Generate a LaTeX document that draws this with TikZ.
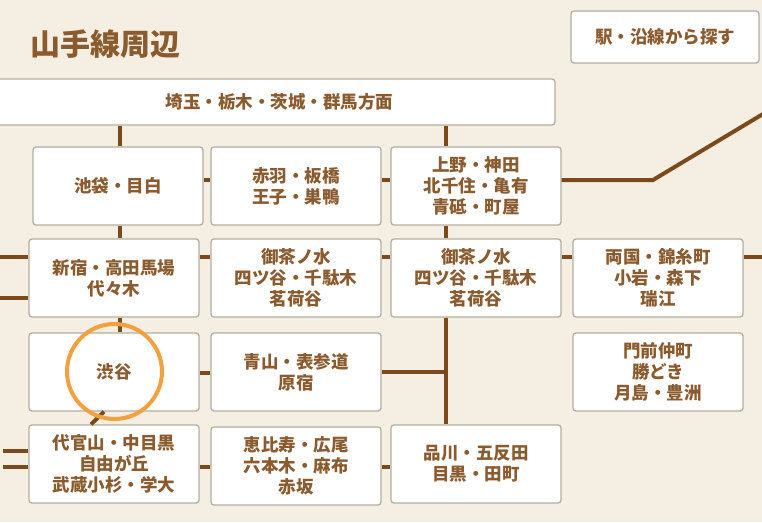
\documentclass[tikz,border=0pt]{standalone}
\usepackage{fontspec}
\setmainfont{Noto Sans CJK JP}
\definecolor{bgc}{HTML}{F4EFE2}
\definecolor{bordc}{HTML}{B5ADA1}
\definecolor{txtc}{HTML}{8A5B2E}
\definecolor{railc}{HTML}{7B4A1C}
\definecolor{ringc}{HTML}{F3A03E}
\tikzset{
  box/.style={draw=bordc, fill=white, line width=1.3pt, rounded corners=3pt,
    align=center, text=txtc, inner sep=0pt,
    font=\fontsize{17.5}{21}\selectfont\bfseries,
    minimum width=170pt, minimum height=78pt},
  rail/.style={draw=railc, line width=4pt},
  ring/.style={draw=ringc, line width=4pt},
  titletext/.style={text=txtc, font=\fontsize{30}{34}\selectfont\bfseries, inner sep=0pt}
}
\begin{document}
\begin{tikzpicture}[x=1pt,y=-1pt]
\useasboundingbox (0,0) rectangle (762,522);
\fill[bgc] (0,0) rectangle (762,522);

% title and search box
\node[titletext, anchor=west] (title) at (30,44) {山手線周辺};
\node[box, minimum width=188pt, minimum height=52pt] (search) at (665,37) {駅・沿線から探す};

% top band
\node[box, minimum width=561pt, minimum height=46pt] (band) at (274.5,102) {};
\node[text=txtc, font=\fontsize{17.5}{21}\selectfont\bfseries, inner sep=0pt] (bandtext) at (279.5,102) {埼玉・栃木・茨城・群馬方面};

% row 1
\node[box] (ikebukuro) at (118,186) {池袋・目白};
\node[box] (akabane) at (296,186) {赤羽・板橋\\王子・巣鴨};
\node[box] (ueno) at (476,186) {上野・神田\\北千住・亀有\\青砥・町屋};
% row 2
\node[box] (shinjuku) at (114,278) {新宿・高田馬場\\代々木};
\node[box] (ochaL) at (296,278) {御茶ノ水\\四ツ谷・千駄木\\茗荷谷};
\node[box] (ochaR) at (476,278) {御茶ノ水\\四ツ谷・千駄木\\茗荷谷};
\node[box] (ryogoku) at (658,278) {両国・錦糸町\\小岩・森下\\瑞江};
% row 3
\node[box] (shibuya) at (114,372) {渋谷};
\node[box] (aoyama) at (296,372) {青山・表参道\\原宿};
\node[box] (monzen) at (658,372) {門前仲町\\勝どき\\月島・豊洲};
% row 4
\node[box] (daikan) at (114,464) {代官山・中目黒\\自由が丘\\武蔵小杉・学大};
\node[box] (ebisu) at (296,466) {恵比寿・広尾\\六本木・麻布\\赤坂};
\node[box] (shinagawa) at (476,464) {品川・五反田\\目黒・田町};

% free ends
\coordinate (bend) at (653,180);
\coordinate (ne) at (778,105);
\coordinate (r2w) at (0,257);
\coordinate (r2w2) at (0,298);
\coordinate (r2e) at (770,257);
\coordinate (r4w) at (3,451);
\coordinate (r4w2) at (3,467);
\coordinate (junc) at (446,372);

% vertical rails
\draw[rail] ([xshift=2pt]ikebukuro.north) -- ([xshift=2pt]ikebukuro.north |- band.south);
\draw[rail] ([xshift=2pt]ikebukuro.south) -- ([xshift=2pt]ikebukuro.south |- shinjuku.north);
\draw[rail] ([xshift=6pt]shinjuku.south) -- ([xshift=6pt]shibuya.north);
\draw[rail] ([xshift=-30pt]ueno.north) -- ([xshift=-30pt]ueno.north |- band.south);
\draw[rail] ([xshift=-30pt]ueno.south) -- ([xshift=-30pt]ochaR.north);
\draw[rail] ([xshift=-30pt]ochaR.south) -- ([xshift=-30pt]shinagawa.north);
\draw[rail] (aoyama.east) -- (junc);
\draw[rail] ([xshift=-10pt]shibuya.south) -- ([xshift=-23pt]daikan.north);

% horizontal rails
\draw[rail] ([yshift=6pt]ikebukuro.east) -- ([yshift=6pt]akabane.west);
\draw[rail] ([yshift=6pt]akabane.east) -- ([yshift=6pt]ueno.west);
\draw[rail] ([yshift=6pt]ueno.east) -- (bend) -- (ne);
\draw[rail] (r2w) -- (r2w -| shinjuku.west);
\draw[rail] (r2w2) -- (r2w2 -| shinjuku.west);
\draw[rail] ([yshift=21pt]shinjuku.east) -- ([yshift=21pt]ochaL.west);
\draw[rail] ([yshift=21pt]ochaL.east) -- ([yshift=21pt]ochaR.west);
\draw[rail] ([yshift=21pt]ochaR.east) -- ([yshift=21pt]ryogoku.west);
\draw[rail] ([yshift=21pt]ryogoku.east) -- (r2e);
\draw[rail] ([yshift=-1pt]shibuya.east) -- ([yshift=-1pt]aoyama.west);
\draw[rail] (r4w) -- (r4w -| daikan.west);
\draw[rail] (r4w2) -- (r4w2 -| daikan.west);
\draw[rail] ([yshift=-3pt]daikan.east) -- ([yshift=-1pt]ebisu.west);
\draw[rail] ([yshift=-1pt]ebisu.east) -- ([yshift=-3pt]shinagawa.west);

% highlight ring
\draw[ring] (114.5,371.5) circle[radius=47.5pt];
\end{tikzpicture}
\end{document}
